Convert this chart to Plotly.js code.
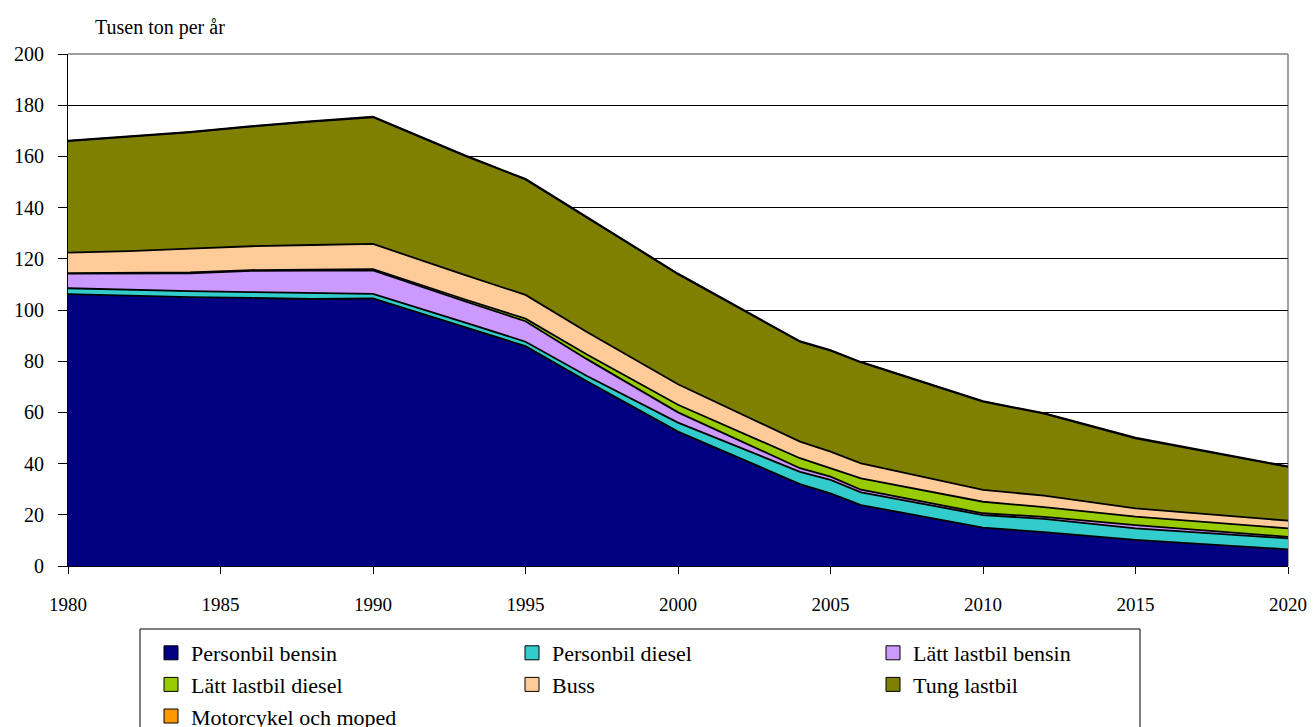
<!DOCTYPE html>
<html>
<head>
<meta charset="utf-8">
<script src="https://cdn.plot.ly/plotly-3.0.1.min.js"></script>
<style>html,body{margin:0;padding:0;background:#fff;}#chart{width:1314px;height:727px;}</style>
</head>
<body>
<div id="chart"></div>
<script>
const years = [1980, 1982, 1984, 1986, 1988, 1990, 1993, 1995, 1997, 2000, 2004, 2005, 2006, 2010, 2012, 2015, 2020];
const personbilBensin   = [106.2, 105.5, 105.0, 104.7, 104.3, 104.5, 93.5, 85.9, 72.3, 52.5, 32.0, 28.4, 23.8, 15.0, 13.2, 10.2, 6.5];
const personbilDiesel   = [2.3, 2.4, 2.4, 2.3, 2.3, 1.8, 1.7, 1.7, 2.0, 3.5, 4.8, 5.2, 5.0, 4.9, 5.2, 4.5, 4.3];
const lattLastbilBensin = [5.7, 6.4, 6.9, 8.3, 8.8, 9.2, 8.3, 8.0, 6.6, 4.0, 1.4, 1.3, 1.0, 0.7, 0.8, 1.3, 0.6];
const lattLastbilDiesel = [0.2, 0.2, 0.4, 0.3, 0.4, 0.5, 0.7, 1.0, 1.8, 3.0, 3.9, 3.3, 4.4, 4.5, 3.8, 3.3, 3.3];
const buss              = [8.0, 8.5, 9.3, 9.3, 9.6, 9.8, 9.5, 9.3, 8.8, 8.0, 6.5, 6.5, 5.9, 4.6, 4.5, 3.2, 3.0];
const tungLastbil       = [43.6, 44.6, 45.4, 46.7, 48.2, 49.5, 46.6, 45.1, 44.7, 43.0, 39.0, 39.4, 39.4, 34.5, 32.0, 27.4, 21.0];
const motorcykel        = [0.2, 0.2, 0.2, 0.2, 0.2, 0.2, 0.2, 0.2, 0.2, 0.2, 0.2, 0.2, 0.2, 0.2, 0.2, 0.2, 0.2];

const seriesNames = ["Personbil bensin", "Personbil diesel", "Lätt lastbil bensin", "Lätt lastbil diesel", "Buss", "Tung lastbil", "Motorcykel och moped"];
const seriesValues = [personbilBensin, personbilDiesel, lattLastbilBensin, lattLastbilDiesel, buss, tungLastbil, motorcykel];
const seriesColors = ["#000080", "#33CCCC", "#CC99FF", "#99CC00", "#FFCC99", "#808000", "#FF9900"];

const traces = [];
seriesValues.forEach((vals, i) => {
  traces.push({
    type: "scatter", mode: "lines", x: years, y: vals, stackgroup: "one",
    fillcolor: seriesColors[i], line: {color: "#000", width: 1.8},
    name: seriesNames[i], showlegend: false, hoverinfo: "skip"
  });
});
seriesNames.forEach((n, i) => {
  traces.push({
    type: "scatter", mode: "markers", x: [null], y: [null], name: n,
    marker: {symbol: "square", size: 14, color: seriesColors[i], line: {color: "#000", width: 1}},
    showlegend: true, hoverinfo: "skip"
  });
});

const serif = "Times New Roman, Times, Liberation Serif, DejaVu Serif, serif";
const layout = {
  width: 1314, height: 727,
  margin: {l: 68, r: 26, t: 54, b: 161, autoexpand: false},
  paper_bgcolor: "#fff", plot_bgcolor: "#fff",
  font: {family: serif, color: "#000", size: 19},
  xaxis: {
    range: [1980, 2020], tickmode: "linear", tick0: 1980, dtick: 5,
    showgrid: false, zeroline: false, showline: true, linecolor: "#000", linewidth: 1,
    ticks: "outside", ticklen: 7, tickcolor: "#000", ticklabelstandoff: 14,
    tickfont: {family: serif, size: 19, color: "#000"}, fixedrange: true
  },
  yaxis: {
    range: [0, 200], tickmode: "linear", tick0: 0, dtick: 20,
    showgrid: true, gridcolor: "#000", gridwidth: 1, zeroline: false,
    showline: true, linecolor: "#000", linewidth: 1,
    ticks: "outside", ticklen: 9, tickcolor: "#000", ticklabelstandoff: 10,
    tickfont: {family: serif, size: 20, color: "#000"}, fixedrange: true
  },
  shapes: [
    {type: "line", xref: "paper", yref: "paper", x0: 0, x1: 1, y0: 1, y1: 1, line: {color: "#808080", width: 1.5}, layer: "above"},
    {type: "line", xref: "paper", yref: "paper", x0: 1, x1: 1, y0: 0, y1: 1, line: {color: "#808080", width: 1.5}, layer: "between"},
    {type: "rect", xref: "paper", yref: "paper", x0: (140 - 68) / 1220, x1: (1140 - 68) / 1220,
     y0: (566 - 629) / 512, y1: (566 - 760) / 512, line: {color: "#000", width: 1}, fillcolor: "rgba(0,0,0,0)", layer: "above"}
  ],
  annotations: [{
    text: "Tusen ton per år", xref: "paper", yref: "paper",
    x: (93 - 68) / 1220, y: 1 + (54 - 27) / 512, xanchor: "left", yanchor: "middle",
    showarrow: false, font: {family: serif, size: 20, color: "#000"}
  }],
  legend: {
    orientation: "h", x: (151 - 68) / 1220, xanchor: "left", y: (566 - 632) / 512, yanchor: "top",
    borderwidth: 0, bgcolor: "rgba(0,0,0,0)",
    font: {family: serif, size: 22, color: "#000"},
    entrywidth: 316, entrywidthmode: "pixels", traceorder: "normal", itemclick: false
  },
  showlegend: true
};
Plotly.newPlot("chart", traces, layout, {displayModeBar: false, staticPlot: true});
</script>
</body>
</html>
